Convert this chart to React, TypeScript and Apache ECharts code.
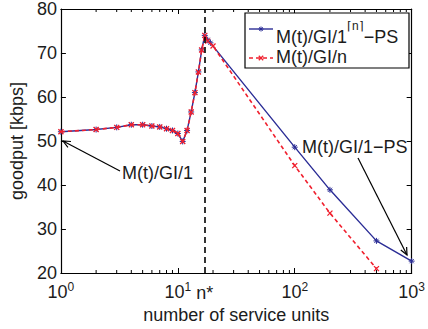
import React, { useEffect, useRef } from 'react';
import * as echarts from 'echarts';

const serviceUnitsBlue = [1, 2, 3, 4, 5, 6, 7, 8, 9, 10, 11, 12, 13, 14, 15, 16, 17, 18, 19, 100, 200, 500, 1000];
const goodputBlue = [52.1, 52.6, 53.1, 53.7, 53.7, 53.4, 53.2, 52.8, 52.4, 51.7, 49.9, 52.4, 56.6, 61.0, 65.7, 70.7, 74.0, 73.0, 72.3, 48.6, 38.9, 27.3, 22.7];
const serviceUnitsRed = [1, 2, 3, 4, 5, 6, 7, 8, 9, 10, 11, 12, 13, 14, 15, 16, 17, 18, 20, 100, 200, 500];
const goodputRed = [52.1, 52.6, 53.1, 53.7, 53.7, 53.4, 53.2, 52.8, 52.4, 51.7, 49.9, 52.4, 56.6, 61.0, 65.7, 70.7, 74.0, 72.7, 71.6, 44.4, 33.6, 21.0];
const minorTickValues = [2, 3, 4, 5, 6, 7, 8, 9, 20, 30, 40, 50, 60, 70, 80, 90, 200, 300, 400, 500, 600, 700, 800, 900];
const nStar = 17;
const legendNames = ['M(t)/GI/1{s|⌈n⌉}−PS', 'M(t)/GI/n'];
const annotationLeft = 'M(t)/GI/1';
const annotationRight = 'M(t)/GI/1−PS';

const FONT = '"Liberation Sans", Arial, Helvetica, sans-serif';
const BLUE = '#2b2d96';
const RED = '#f0202e';
const TXT = '#1c1c1c';

const STAR = 'path://M0,5L10,5M5,0L5,10M1.5,1.5L8.5,8.5M8.5,1.5L1.5,8.5';
const XMARK = 'path://M0,0L10,10M10,0L0,10';

function arrow(x1: number, y1: number, x2: number, y2: number) {
  const a = Math.atan2(y2 - y1, x2 - x1);
  const L = 8;
  const s = 0.42;
  const h1 = [x2 - L * Math.cos(a - s), y2 - L * Math.sin(a - s)];
  const h2 = [x2 - L * Math.cos(a + s), y2 - L * Math.sin(a + s)];
  const st = { stroke: '#000', lineWidth: 1.2 };
  return {
    type: 'group',
    children: [
      { type: 'line', shape: { x1, y1, x2, y2 }, style: st },
      { type: 'polyline', shape: { points: [h1, [x2, y2], h2] }, style: { ...st, fill: 'none' } },
    ],
  };
}

function starMark(cx: number, cy: number, r: number, color: string) {
  const st = { stroke: color, lineWidth: 1 };
  const d = r * 0.7;
  return [
    { type: 'line', shape: { x1: cx - r, y1: cy, x2: cx + r, y2: cy }, style: st, z: 101 },
    { type: 'line', shape: { x1: cx, y1: cy - r, x2: cx, y2: cy + r }, style: st, z: 101 },
    { type: 'line', shape: { x1: cx - d, y1: cy - d, x2: cx + d, y2: cy + d }, style: st, z: 101 },
    { type: 'line', shape: { x1: cx - d, y1: cy + d, x2: cx + d, y2: cy - d }, style: st, z: 101 },
  ];
}

function xMark(cx: number, cy: number, r: number, color: string) {
  const st = { stroke: color, lineWidth: 1.3 };
  return [
    { type: 'line', shape: { x1: cx - r, y1: cy - r, x2: cx + r, y2: cy + r }, style: st, z: 101 },
    { type: 'line', shape: { x1: cx - r, y1: cy + r, x2: cx + r, y2: cy - r }, style: st, z: 101 },
  ];
}

export default function App() {
  const ref = useRef<HTMLDivElement>(null);
  useEffect(() => {
    document.body.style.margin = '0';
    const chart = echarts.init(ref.current!, null, { renderer: 'svg' });
    const axisRich = {
      b: { fontSize: 18, fontFamily: FONT, color: TXT, lineHeight: 20, verticalAlign: 'bottom' },
      s: { fontSize: 12, fontFamily: FONT, color: TXT, verticalAlign: 'top' },
    };
    const legendRich = {
      b: { fontSize: 18, fontFamily: FONT, color: TXT, lineHeight: 26, verticalAlign: 'bottom' },
      s: { fontSize: 12, fontFamily: FONT, color: TXT, verticalAlign: 'top' },
    };
    const option: any = {
      animation: false,
      textStyle: { fontFamily: FONT },
      grid: { left: 58, right: 15, top: 9, bottom: 51, containLabel: false },
      xAxis: [
        {
          type: 'log', logBase: 10, min: 1, max: 1000, position: 'bottom',
          axisLine: { show: true, lineStyle: { color: '#000', width: 1.2 } },
          axisTick: { show: true, inside: true, length: 5, lineStyle: { color: '#000' } },
          splitLine: { show: false },
          axisLabel: {
            margin: 8,
            formatter: (v: number) => `{b|10}{s|${Math.round(Math.log10(v))}}`,
            rich: axisRich,
          },
          name: 'number of service units', nameLocation: 'middle', nameGap: 33,
          nameTextStyle: { fontSize: 18, color: TXT, fontFamily: FONT },
        },
        {
          type: 'log', logBase: 10, min: 1, max: 1000, position: 'top',
          axisLine: { show: true, lineStyle: { color: '#000', width: 1.2 } },
          axisTick: { show: true, inside: true, length: 5, lineStyle: { color: '#000' } },
          axisLabel: { show: false }, splitLine: { show: false },
        },
      ],
      yAxis: [
        {
          type: 'value', min: 20, max: 80, interval: 10, position: 'left',
          axisLine: { show: true, lineStyle: { color: '#000', width: 1.2 } },
          axisTick: { show: true, inside: true, length: 5, lineStyle: { color: '#000' } },
          splitLine: { show: false },
          axisLabel: { fontSize: 18, color: TXT, margin: 4, fontFamily: FONT },
          name: 'goodput [kbps]', nameLocation: 'middle', nameGap: 27,
          nameTextStyle: { fontSize: 18, color: TXT, fontFamily: FONT },
        },
        {
          type: 'value', min: 20, max: 80, interval: 10, position: 'right',
          axisLine: { show: true, lineStyle: { color: '#000', width: 1.2 } },
          axisTick: { show: true, inside: true, length: 5, lineStyle: { color: '#000' } },
          axisLabel: { show: false }, splitLine: { show: false },
        },
      ],
      series: [
        {
          type: 'custom', silent: true, xAxisIndex: 0, yAxisIndex: 0, clip: false,
          data: minorTickValues.map((v) => [v, 50]),
          renderItem: (params: any, api: any) => {
            const v = api.value(0);
            const pb = api.coord([v, 20]);
            const pt = api.coord([v, 80]);
            const st = { stroke: '#000', lineWidth: 1 };
            return {
              type: 'group',
              children: [
                { type: 'line', shape: { x1: pb[0], y1: pb[1], x2: pb[0], y2: pb[1] - 3 }, style: st },
                { type: 'line', shape: { x1: pt[0], y1: pt[1], x2: pt[0], y2: pt[1] + 3 }, style: st },
              ],
            };
          },
        },
        {
          name: 'blue', type: 'line', silent: true,
          data: serviceUnitsBlue.map((n, i) => [n, goodputBlue[i]]),
          symbol: STAR, symbolSize: 6, showSymbol: true,
          lineStyle: { color: BLUE, width: 1.4 },
          itemStyle: { color: BLUE, borderColor: BLUE, borderWidth: 1 },
          emphasis: { disabled: true },
          z: 3,
          markLine: {
            silent: true, symbol: 'none',
            lineStyle: { color: '#000', type: [6, 4], width: 1.6 },
            label: {
              show: true, position: 'start', formatter: 'n*', distance: 11,
              fontSize: 18, color: TXT, fontFamily: FONT,
            },
            data: [{ xAxis: nStar }],
          },
        },
        {
          name: 'red', type: 'line', silent: true,
          data: serviceUnitsRed.map((n, i) => [n, goodputRed[i]]),
          symbol: XMARK, symbolSize: 5, showSymbol: true,
          lineStyle: { color: RED, width: 1.6, type: [4, 3] },
          itemStyle: { color: RED, borderColor: RED, borderWidth: 1.3 },
          emphasis: { disabled: true },
          z: 4,
        },
      ],
      graphic: [
        { type: 'rect', shape: { x: 245, y: 13, width: 164, height: 55 }, style: { fill: '#fff', stroke: '#000', lineWidth: 1.2 }, z: 100 },
        { type: 'line', shape: { x1: 249, y1: 29, x2: 273, y2: 29 }, style: { stroke: BLUE, lineWidth: 1.4 }, z: 101 },
        ...starMark(261, 29, 2.5, BLUE),
        { type: 'line', shape: { x1: 249, y1: 58, x2: 273, y2: 58 }, style: { stroke: RED, lineWidth: 1.6, lineDash: [4, 3] }, z: 101 },
        ...xMark(261, 58, 2.2, RED),
        {
          type: 'text', x: 276, y: 20, z: 101,
          style: {
            text: legendNames[0].replace(/^([^{]*)\{s\|([^}]*)\}(.*)$/, '{b|$1}{s|$2}{b|$3}'),
            rich: legendRich, fill: TXT,
          },
        },
        {
          type: 'text', x: 276, y: 57, z: 101,
          style: { text: legendNames[1], fontSize: 18, fontFamily: FONT, fill: TXT, verticalAlign: 'middle' },
        },
        { type: 'text', x: 122, y: 173, style: { text: annotationLeft, fontSize: 18, fontFamily: FONT, fill: TXT, verticalAlign: 'middle' } },
        { type: 'text', x: 302, y: 147, style: { text: annotationRight, fontSize: 18, fontFamily: FONT, fill: TXT, verticalAlign: 'middle' } },
        arrow(120, 171, 63, 141),
        arrow(358, 158, 407, 255),
      ],
    };
    chart.setOption(option);
    return () => chart.dispose();
  }, []);
  return <div ref={ref} style={{ position: 'absolute', left: 0, top: 0, width: 428, height: 329 }} />;
}
